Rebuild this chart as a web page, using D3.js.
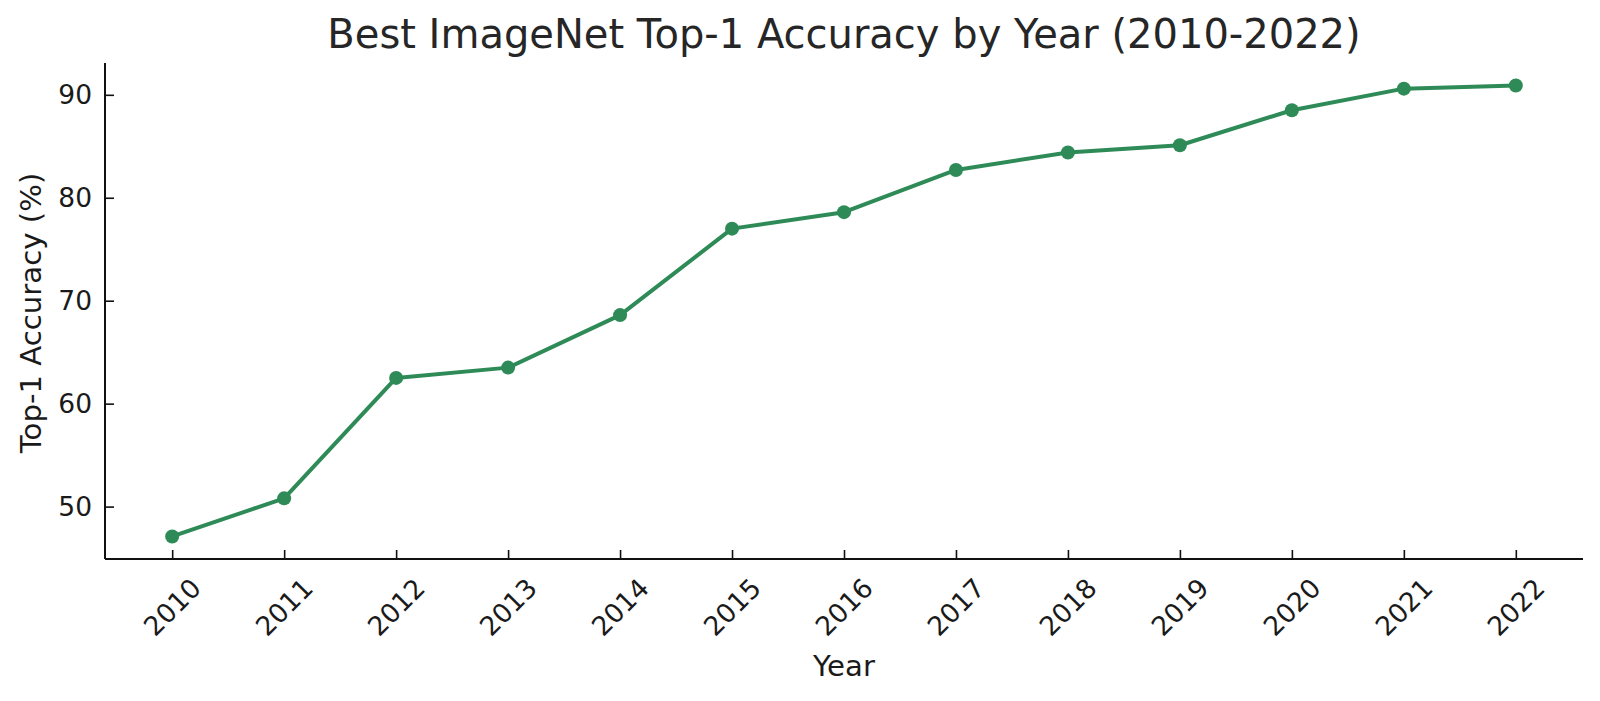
<!DOCTYPE html>
<html>
<head>
<meta charset="utf-8">
<script src="https://cdn.jsdelivr.net/npm/d3@7"></script>
<style>
  html, body { margin: 0; padding: 0; background: #fff; }
  svg { display: block; font-family: "DejaVu Sans", sans-serif; }
</style>
</head>
<body>
<svg id="chart" width="1600" height="701"></svg>
<script>
const years = [2010, 2011, 2012, 2013, 2014, 2015, 2016, 2017, 2018, 2019, 2020, 2021, 2022];
const accuracy = [47.1, 50.8, 62.5, 63.5, 68.6, 77.0, 78.6, 82.7, 84.4, 85.1, 88.5, 90.6, 90.9];
const yTicks = [50, 60, 70, 80, 90];
const titleText = "Best ImageNet Top-1 Accuracy by Year (2010-2022)";
const xLabel = "Year";
const yLabel = "Top-1 Accuracy (%)";

(function () {
const svg = d3.select("#chart");
const mLeft = 105, mRight = 1583, mTop = 63, mBottom = 559;
const color = "#2e8b57";

const xPad = (d3.max(years) - d3.min(years)) * 0.05;
const x = d3.scaleLinear()
  .domain([d3.min(years) - xPad, d3.max(years) + xPad])
  .range([mLeft, mRight]);
const yMin = d3.min(accuracy), yMax = d3.max(accuracy);
const yPad = (yMax - yMin) * 0.05;
const y = d3.scaleLinear()
  .domain([yMin - yPad, yMax + yPad])
  .range([mBottom, mTop]);

// Axes (ticks pointing inward)
const xAxis = svg.append("g")
  .attr("transform", `translate(0,${mBottom})`)
  .call(d3.axisBottom(x).tickValues(years).tickSize(-9).tickFormat(""));
const yAxis = svg.append("g")
  .attr("transform", `translate(${mLeft},0)`)
  .call(d3.axisLeft(y).tickValues(yTicks).tickSize(-9).tickFormat(""));
[xAxis, yAxis].forEach(g => {
  g.select(".domain").remove();
  g.selectAll(".tick line").attr("stroke", "#111").attr("stroke-width", 1.6);
});
svg.append("line").attr("x1", mLeft).attr("x2", mRight).attr("y1", mBottom).attr("y2", mBottom)
  .attr("stroke", "#111").attr("stroke-width", 2);
svg.append("line").attr("x1", mLeft).attr("x2", mLeft).attr("y1", mTop).attr("y2", mBottom)
  .attr("stroke", "#111").attr("stroke-width", 2);

// Tick labels
svg.append("g").selectAll("text").data(yTicks).join("text")
  .attr("x", mLeft - 13)
  .attr("y", d => y(d))
  .attr("text-anchor", "end")
  .attr("dominant-baseline", "central")
  .attr("font-size", 26.5)
  .attr("fill", "#1a1a1a")
  .text(d => d);

svg.append("g").selectAll("text").data(years).join("text")
  .attr("transform", d => `translate(${x(d)},${mBottom + 48}) rotate(-45)`)
  .attr("text-anchor", "middle")
  .attr("dominant-baseline", "central")
  .attr("font-size", 26.5)
  .attr("fill", "#1a1a1a")
  .text(d => d);

// Axis titles
svg.append("text")
  .attr("x", (mLeft + mRight) / 2)
  .attr("y", 676)
  .attr("text-anchor", "middle")
  .attr("font-size", 29.2)
  .attr("fill", "#1a1a1a")
  .text(xLabel);

svg.append("text")
  .attr("transform", `translate(31,${(mTop + mBottom) / 2 + 2}) rotate(-90)`)
  .attr("text-anchor", "middle")
  .attr("dominant-baseline", "central")
  .attr("font-size", 29.2)
  .attr("fill", "#1a1a1a")
  .text(yLabel);

// Title
svg.append("text")
  .attr("x", (mLeft + mRight) / 2)
  .attr("y", 47.5)
  .attr("text-anchor", "middle")
  .attr("font-size", 40)
  .attr("fill", "#262626")
  .text(titleText);

// Line + markers
const data = years.map((yr, i) => ({ year: yr, value: accuracy[i] }));
svg.append("path")
  .datum(data)
  .attr("fill", "none")
  .attr("stroke", color)
  .attr("stroke-width", 4)
  .attr("stroke-linejoin", "round")
  .attr("d", d3.line().x(d => x(d.year)).y(d => y(d.value)));

svg.append("g").selectAll("circle").data(data).join("circle")
  .attr("cx", d => x(d.year))
  .attr("cy", d => y(d.value))
  .attr("r", 7)
  .attr("fill", color);
})();
</script>
</body>
</html>
